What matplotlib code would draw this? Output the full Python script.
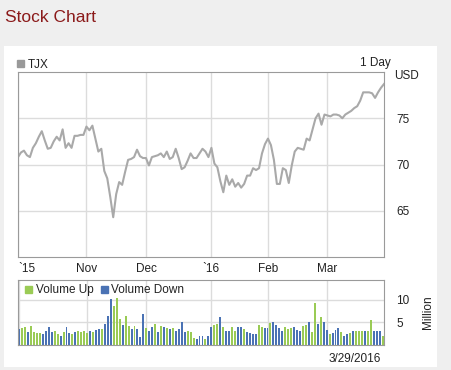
import matplotlib
matplotlib.use("Agg")
import matplotlib.pyplot as plt
from matplotlib.patches import Rectangle, Patch

# TJX daily close, one value per trading day (Sep 30 2015 - Mar 29 2016)
price = [70.8, 71.3, 71.5, 71.0, 70.8, 71.8, 72.3, 73.0, 73.6, 72.6,
         71.7, 71.8, 72.5, 73.0, 72.6, 73.8, 71.8, 72.3, 71.8, 73.1,
         73.1, 73.2, 73.2, 74.1, 73.7, 74.2, 72.8, 71.4, 71.7, 69.3,
         68.5, 66.5, 64.3, 66.8, 68.1, 67.8, 69.2, 70.5, 70.6, 70.8,
         71.6, 70.9, 70.7, 70.7, 69.9, 70.8, 70.9, 71.0, 71.2, 70.8,
         71.4, 70.6, 70.8, 71.7, 70.7, 69.5, 69.7, 70.4, 71.2, 70.7,
         70.7, 71.2, 71.7, 71.4, 70.8, 71.8, 70.1, 69.7, 68.2, 67.0,
         68.8, 67.8, 68.4, 67.6, 68.0, 67.5, 67.9, 68.8, 68.8, 69.6,
         69.4, 69.6, 71.2, 72.2, 72.8, 72.1, 70.5, 67.9, 67.9, 69.6,
         69.4, 68.0, 69.9, 71.4, 71.8, 71.7, 71.6, 72.8, 72.6, 73.8,
         75.0, 75.5, 74.3, 75.4, 75.3, 75.2, 75.4, 75.4, 75.3, 75.0,
         75.4, 75.6, 75.8, 76.1, 76.3, 76.9, 77.8, 77.8, 77.8, 77.7,
         77.2, 77.8, 78.3, 78.7]

# volume in millions and direction (u = up day, d = down day)
volume = [3.5, 3.7, 4.0, 2.8, 4.3, 2.8, 2.6, 2.6, 2.4, 3.1,
          3.9, 2.8, 3.0, 2.4, 2.0, 2.8, 3.9, 2.6, 2.4, 2.8,
          3.0, 2.9, 3.0, 2.6, 3.0, 2.8, 3.3, 3.5, 3.5, 4.6,
          6.4, 10.3, 8.6, 10.5, 5.7, 4.4, 6.4, 4.3, 3.5, 4.3,
          3.5, 1.8, 6.8, 3.7, 3.1, 4.0, 4.6, 2.8, 4.3, 4.0,
          3.7, 3.5, 3.7, 3.1, 3.5, 5.0, 2.8, 3.1, 2.8, 1.5,
          1.3, 2.0, 2.0, 1.3, 2.0, 4.0, 4.4, 4.6, 6.1, 4.0,
          3.0, 3.2, 4.0, 3.0, 4.0, 4.0, 3.5, 2.8, 2.6, 2.4,
          2.4, 4.5, 3.9, 3.75, 3.75, 4.8, 5.0, 4.5, 3.75, 3.2,
          4.0, 3.5, 3.7, 4.0, 3.3, 3.2, 4.3, 4.5, 5.0, 2.8,
          9.2, 4.6, 6.25, 5.0, 3.3, 2.4, 2.6, 3.3, 3.75, 2.8,
          2.0, 2.4, 2.6, 3.0, 3.2, 3.2, 3.0, 3.0, 3.0, 5.5,
          3.2, 3.2, 3.0, 2.1]
direction = ("d u u d u u u u d d "
             "d d u u d u d d u d "
             "u u u u d u d d u d "
             "d d u u u d u u d u "
             "d d d u d d u d u d "
             "u d u d d d d u u u "
             "d d d u d d u u d u "
             "d d u u d d u d d d "
             "d u u d d u d d d d "
             "u u u d d d u u d u "
             "u d u d d u d d d u "
             "d d u d u u u d u u "
             "d d d u").split()

month_pos = [0, 23, 43, 65, 84, 104]
month_labels = ["`15", "Nov", "Dec", "`16", "Feb", "Mar"]

GREEN = "#9acb55"
BLUE = "#4a72b4"
GRID = "#dcdcdc"
EDGE = "#9a9a9a"
TXT = "#222222"

plt.rcParams["font.family"] = ["Liberation Sans", "DejaVu Sans"]

W, H = 452, 370
fig = plt.figure(figsize=(W / 100, H / 100), dpi=100)
fig.patch.set_facecolor("#efefef")

def fx(px):
    return px / W

def fy(py):
    return (H - py) / H

# white panel
fig.patches.append(Rectangle((fx(4), fy(367)), (437 - 4) / W, (367 - 46) / H,
                             transform=fig.transFigure, facecolor="white",
                             edgecolor="none", zorder=-5))

fig.text(fx(5), fy(18), "Stock Chart", color="#8b1a1a", fontsize=12.5,
         ha="left", va="center")

n = len(price)
xs = list(range(n))

# price panel
ax = fig.add_axes([fx(18), fy(257), 366 / W, 185 / H])
ax.patch.set_alpha(0)
ax.plot(xs, price, color="#a9a9a9", lw=1.5)
ax.set_xlim(0, n - 1)
ax.set_ylim(60, 80)
ax.set_yticks([65, 70, 75])
ax.yaxis.tick_right()
ax.set_xticks(month_pos)
ax.set_xticklabels(month_labels)
ax.get_xticklabels()[0].set_ha("left")
ax.tick_params(length=0, labelsize=8.5, colors=TXT)
ax.tick_params(axis="y", pad=9)
ax.tick_params(axis="x", pad=4)
ax.grid(True, color=GRID, lw=1)
ax.set_axisbelow(True)
for s in ax.spines.values():
    s.set_color(EDGE)
ax.legend([Patch(color="#999999")], ["TJX"], loc="lower left",
          bbox_to_anchor=(-0.005, 1.0), frameon=False, borderaxespad=0.1,
          borderpad=0, handlelength=0.6, handleheight=0.6, handletextpad=0.3,
          fontsize=8.5, labelcolor=TXT)

fig.text(fx(391), fy(63), "1 Day", fontsize=8.5, color=TXT, ha="right", va="center")
fig.text(fx(394), fy(76), "USD", fontsize=8.5, color=TXT, ha="left", va="center")

# volume panel
av = fig.add_axes([fx(18), fy(345), 366 / W, 65 / H])
av.patch.set_alpha(0)
colors = [GREEN if d == "u" else BLUE for d in direction]
av.bar(xs, volume, width=0.66, color=colors, zorder=2)
av.set_xlim(-0.4, n - 0.6)
av.set_ylim(0, 14.4)
av.set_yticks([5, 10])
av.yaxis.tick_right()
av.set_xticks(month_pos)
av.set_xticklabels([])
av.tick_params(length=0, labelsize=8.5, colors=TXT)
av.tick_params(axis="y", pad=9)
av.grid(True, color=GRID, lw=1, zorder=0)
av.set_axisbelow(True)
for s in av.spines.values():
    s.set_color(EDGE)
av.legend([Patch(color=GREEN), Patch(color=BLUE)], ["Volume Up", "Volume Down"],
          loc="upper left", bbox_to_anchor=(0.0, 1.04), frameon=False, ncol=2,
          handlelength=0.6, handleheight=0.6, handletextpad=0.3,
          columnspacing=0.6, fontsize=8.5, labelcolor=TXT, borderaxespad=0.2)

fig.text(fx(428), fy(312), "Million", fontsize=8.5, color=TXT, rotation=90,
         ha="center", va="center")
fig.text(fx(381), fy(359), "3/29/2016", fontsize=8.5, color=TXT, ha="right",
         va="center")

fig.savefig("out.png", dpi=100, facecolor=fig.get_facecolor())
